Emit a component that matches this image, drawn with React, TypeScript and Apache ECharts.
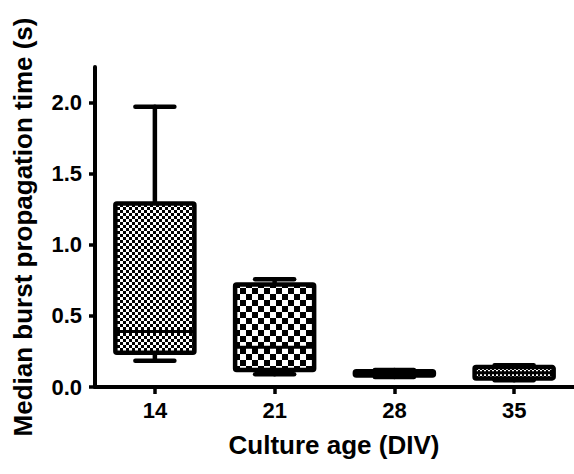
import React, { useEffect, useRef } from "react";
import * as echarts from "echarts";

const categories = ["14", "21", "28", "35"];
const lowValues = [0.185, 0.09, 0.07, 0.047];
const q1Values = [0.24, 0.12, 0.08, 0.06];
const medianValues = [0.39, 0.28, 0.095, 0.1];
const q3Values = [1.29, 0.72, 0.11, 0.14];
const highValues = [1.97, 0.757, 0.12, 0.153];
const yTicks = [0, 0.5, 1.0, 1.5, 2.0];
const patternCells = [3, 6, 2, 2];

const FONT = "'Liberation Sans', Arial, Helvetica, sans-serif";

function makeChecker(cell: number) {
  const c = document.createElement("canvas");
  c.width = cell * 2;
  c.height = cell * 2;
  const ctx = c.getContext("2d")!;
  ctx.fillStyle = "#ffffff";
  ctx.fillRect(0, 0, cell * 2, cell * 2);
  ctx.fillStyle = "#000000";
  ctx.fillRect(0, 0, cell, cell);
  ctx.fillRect(cell, cell, cell, cell);
  return c.toDataURL();
}

export default function App() {
  const ref = useRef<HTMLDivElement>(null);
  useEffect(() => {
    if (!ref.current) return;
    const chart = echarts.init(ref.current, undefined, { renderer: "svg" });
    const patterns = patternCells.map((c) => makeChecker(c));
    const data = categories.map((_, i) => [
      i,
      lowValues[i],
      q1Values[i],
      medianValues[i],
      q3Values[i],
      highValues[i],
    ]);
    const lw = 4.5;
    chart.setOption({
      animation: false,
      backgroundColor: "#ffffff",
      grid: { left: 95, right: 0, top: 67, bottom: 87 },
      xAxis: {
        type: "category",
        data: categories,
        boundaryGap: true,
        axisLine: { show: true, lineStyle: { color: "#000", width: 4 } },
        axisTick: {
          show: true,
          alignWithLabel: true,
          length: 7,
          lineStyle: { color: "#000", width: 3.5 },
        },
        axisLabel: {
          color: "#000",
          fontSize: 22,
          fontWeight: "bold",
          fontFamily: FONT,
          margin: 12,
        },
        splitLine: { show: false },
      },
      yAxis: {
        type: "value",
        min: 0,
        max: 2.25,
        interval: 0.5,
        axisLine: { show: true, lineStyle: { color: "#000", width: 4 } },
        axisTick: {
          show: true,
          length: 6,
          customValues: yTicks,
          lineStyle: { color: "#000", width: 3.5 },
        },
        axisLabel: {
          color: "#000",
          fontSize: 22,
          fontWeight: "bold",
          fontFamily: FONT,
          margin: 13,
          customValues: yTicks,
          formatter: (v: number) => v.toFixed(1),
        },
        splitLine: { show: false },
      },
      graphic: [
        {
          type: "text",
          x: 23,
          y: 227,
          rotation: Math.PI / 2,
          style: {
            text: "Median burst propagation time (s)",
            font: `bold 26px ${FONT}`,
            fill: "#000",
            textAlign: "center",
            textVerticalAlign: "middle",
          },
        },
        {
          type: "text",
          x: 334,
          y: 445,
          style: {
            text: "Culture age (DIV)",
            font: `bold 26px ${FONT}`,
            fill: "#000",
            textAlign: "center",
            textVerticalAlign: "middle",
          },
        },
      ],
      series: [
        {
          type: "custom",
          data,
          encode: { x: 0, y: [1, 2, 3, 4, 5] },
          renderItem: (params: any, api: any) => {
            const idx = api.value(0);
            const x = api.coord([idx, 0])[0];
            const band = api.size([1, 0])[0];
            const bw = band * 0.66;
            const capW = 39;
            const yLow = api.coord([idx, api.value(1)])[1];
            const yQ1 = api.coord([idx, api.value(2)])[1];
            const yMed = api.coord([idx, api.value(3)])[1];
            const yQ3 = api.coord([idx, api.value(4)])[1];
            const yHigh = api.coord([idx, api.value(5)])[1];
            const ls = { stroke: "#000", lineWidth: lw, lineCap: "round" };
            return {
              type: "group",
              children: [
                { type: "line", shape: { x1: x, y1: yQ3, x2: x, y2: yHigh }, style: ls },
                { type: "line", shape: { x1: x, y1: yQ1, x2: x, y2: yLow }, style: ls },
                {
                  type: "line",
                  shape: { x1: x - capW / 2, y1: yHigh, x2: x + capW / 2, y2: yHigh },
                  style: ls,
                },
                {
                  type: "line",
                  shape: { x1: x - capW / 2, y1: yLow, x2: x + capW / 2, y2: yLow },
                  style: ls,
                },
                {
                  type: "rect",
                  shape: { x: x - bw / 2, y: yQ3, width: bw, height: yQ1 - yQ3, r: 1.5 },
                  style: {
                    fill: { image: patterns[params.dataIndex], repeat: "repeat" },
                    stroke: "#000",
                    lineWidth: lw,
                    lineJoin: "round",
                  },
                },
                {
                  type: "line",
                  shape: { x1: x - bw / 2, y1: yMed, x2: x + bw / 2, y2: yMed },
                  style: { stroke: "#000", lineWidth: 3 },
                },
              ],
            };
          },
        },
      ],
    });
    return () => chart.dispose();
  }, []);
  return (
    <div
      ref={ref}
      style={{ position: "fixed", left: 0, top: 0, width: 574, height: 474 }}
    />
  );
}
